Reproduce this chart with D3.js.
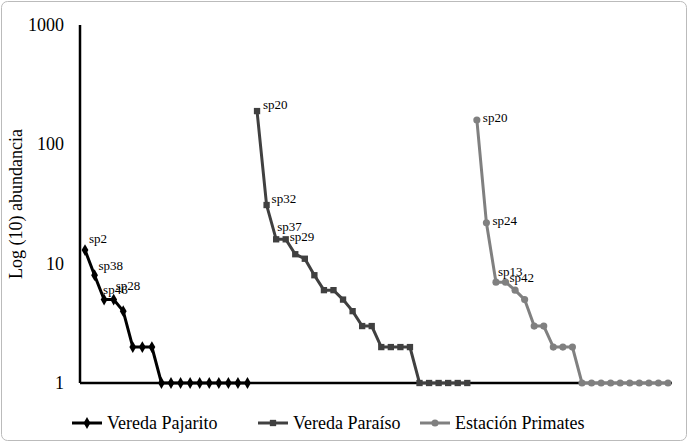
<!DOCTYPE html>
<html>
<head>
<meta charset="utf-8" />
<script src="https://d3js.org/d3.v7.min.js"></script>
<style>
  body { margin: 0; background: #fff; }
</style>
</head>
<body>
<svg id="chart" width="688" height="442" font-family="'Liberation Serif', 'DejaVu Serif', serif"></svg>
<script>
// abundance values, sorted, one site after the other
var pajarito = [13, 8, 5, 5, 4, 2, 2, 2, 1, 1, 1, 1, 1, 1, 1, 1, 1, 1];
var paraiso = [190, 31, 16, 16, 12, 11, 8, 6, 6, 5, 4, 3, 3, 2, 2, 2, 2, 1, 1, 1, 1, 1, 1];
var primates = [160, 22, 7, 7, 6, 5, 3, 3, 2, 2, 2, 1, 1, 1, 1, 1, 1, 1, 1, 1, 1];
var seriesNames = ["Vereda Pajarito", "Vereda Paraíso", "Estación Primates"];
var labelsPajarito = ["sp2", "sp38", "sp46", "sp28"];
var labelsParaiso = ["sp20", "sp32", "sp37", "sp29"];
var labelsPrimates = ["sp20", "sp24", "sp13", "sp42"];
var yTicks = [1, 10, 100, 1000];

var svg = d3.select("#chart");
svg.append("rect").attr("x", 1.5).attr("y", 1.5).attr("width", 685).attr("height", 439)
  .attr("rx", 6).attr("fill", "none").attr("stroke", "#bbb");

var total = pajarito.length + paraiso.length + primates.length;
var x = d3.scaleLinear().domain([0, total - 1]).range([85, 668]);
var y = d3.scaleLog().domain([1, 1000]).range([383, 25]);

// label offsets [dx, dy] for the four labelled points of each series
var series = [
  { vals: pajarito, start: 0, color: "#000", shape: d3.symbolDiamond, labels: labelsPajarito,
    off: [[4, -7], [4, -5], [-1, -6], [2, -10]] },
  { vals: paraiso, start: pajarito.length, color: "#404040", shape: d3.symbolSquare, labels: labelsParaiso,
    off: [[6, -2], [5, -2], [1, -8], [4, 2]] },
  { vals: primates, start: pajarito.length + paraiso.length, color: "#808080", shape: d3.symbolCircle, labels: labelsPrimates,
    off: [[6, 2], [6, 2], [2, -6], [4, 0]] }
];

// axes
svg.append("line").attr("x1", 80).attr("x2", 80).attr("y1", y(1000)).attr("y2", y(1))
  .attr("stroke", "#000").attr("stroke-width", 2.5);
svg.append("line").attr("x1", 80).attr("x2", 672).attr("y1", y(1)).attr("y2", y(1))
  .attr("stroke", "#000").attr("stroke-width", 2.5);
svg.selectAll(".yt").data(yTicks).enter().append("text")
  .attr("x", 64).attr("y", function (d) { return y(d) + 6; })
  .attr("text-anchor", "end").attr("font-size", 18).text(function (d) { return d; });
svg.append("text").attr("transform", "translate(22,204) rotate(-90)")
  .attr("text-anchor", "middle").attr("font-size", 18).text("Log (10) abundancia");

var line = d3.line().x(function (d) { return d.x; }).y(function (d) { return d.y; });

series.forEach(function (s) {
  var pts = s.vals.map(function (v, i) { return { x: x(s.start + i), y: y(v) }; });
  svg.append("path").attr("d", line(pts)).attr("fill", "none")
    .attr("stroke", s.color).attr("stroke-width", 3);
  svg.selectAll(null).data(pts).enter().append("path")
    .attr("d", d3.symbol().type(s.shape).size(40))
    .attr("transform", function (d) { return "translate(" + d.x + "," + d.y + ")"; })
    .attr("fill", s.color);
  s.labels.forEach(function (l, i) {
    svg.append("text").attr("x", pts[i].x + s.off[i][0]).attr("y", pts[i].y + s.off[i][1])
      .attr("font-size", 13).attr("fill", "#000").text(l);
  });
});

// legend
var lx = [72, 258, 420];
series.forEach(function (s, i) {
  svg.append("line").attr("x1", lx[i]).attr("x2", lx[i] + 30).attr("y1", 423).attr("y2", 423)
    .attr("stroke", s.color).attr("stroke-width", 3);
  svg.append("path").attr("d", d3.symbol().type(s.shape).size(40))
    .attr("transform", "translate(" + (lx[i] + 15) + ",423)").attr("fill", s.color);
  svg.append("text").attr("x", lx[i] + 35).attr("y", 429).attr("font-size", 18).text(seriesNames[i]);
});
</script>
</body>
</html>
